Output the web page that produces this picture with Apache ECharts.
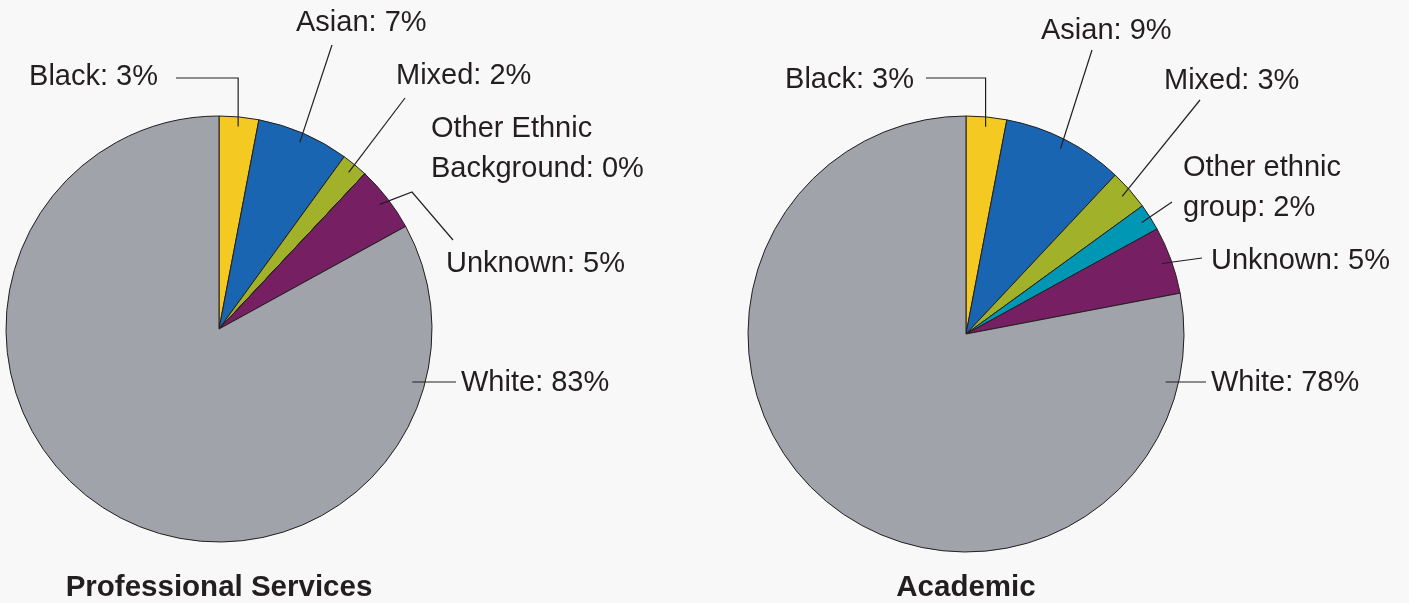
<!DOCTYPE html>
<html>
<head>
<meta charset="utf-8">
<script src="https://cdn.jsdelivr.net/npm/echarts@6/dist/echarts.min.js"></script>
<style>
  html, body { margin: 0; padding: 0; background: #f8f8f8; }
  #chart { width: 1409px; height: 603px; }
</style>
</head>
<body>
<div id="chart"></div>
<script>
// Staff ethnicity by group (percent)
const profNames = ['Black', 'Asian', 'Mixed', 'Other Ethnic\nBackground', 'Unknown', 'White'];
const profValues = [3, 7, 2, 0, 5, 83];
const acadNames = ['Black', 'Asian', 'Mixed', 'Other ethnic\ngroup', 'Unknown', 'White'];
const acadValues = [3, 9, 3, 2, 5, 78];
const pieTitles = ['Professional Services', 'Academic'];
const sliceColors = ['#f4c922', '#1a65b1', '#a1b22a', '#0097b5', '#761f62', '#a0a3aa'];

const INK = '#231f20';
const FONT = '"Liberation Sans", Arial, Helvetica, sans-serif';

// Pie geometry
const profPie = { cx: 219, cy: 329, r: 213 };
const acadPie = { cx: 966, cy: 334, r: 218 };

// Label placement, offsets relative to each pie centre.
// via: leader-line points after the start (null x = keep start x).
// from: 'mid' starts inside the slice at its mid angle, 'flat' starts level with the label.
const profSpots = [
  { lx: -61, ly: -252, align: 'right', from: 'mid', via: [[null, -251], [-43, -251]] },
  { lx: 77,  ly: -306, align: 'left',  from: 'mid', via: [[113, -284]] },
  { lx: 177, ly: -253, align: 'left',  from: 'mid', via: [[186, -231]] },
  { lx: 212, ly: -180, align: 'left',  from: null },
  { lx: 227, ly: -65,  align: 'left',  from: 'mid', via: [[193, -137], [234, -89]] },
  { lx: 242, ly: 54,   align: 'left',  from: 'flat', via: [[237, 53]] }
];
const acadSpots = [
  { lx: -52, ly: -254, align: 'right', from: 'mid', via: [[null, -256], [-40, -256]] },
  { lx: 75,  ly: -303, align: 'left',  from: 'mid', via: [[126, -284]] },
  { lx: 198, ly: -253, align: 'left',  from: 'mid', via: [[234, -234]] },
  { lx: 217, ly: -146, align: 'left',  from: 'mid', via: [[206, -132]] },
  { lx: 245, ly: -73,  align: 'left',  from: 'mid', via: [[236, -76]] },
  { lx: 245, ly: 49,   align: 'left',  from: 'flat', via: [[240, 48]] }
];

function makeLayout(pie, values, spots) {
  const total = values.reduce((a, b) => a + b, 0);
  return function (p) {
    const s = spots[p.dataIndex];
    const out = { x: pie.cx + s.lx, y: pie.cy + s.ly, align: s.align, verticalAlign: 'middle' };
    if (!s.from) return out;
    let start;
    if (s.from === 'mid') {
      let before = 0;
      for (let i = 0; i < p.dataIndex; i++) before += values[i];
      const a = (before + values[p.dataIndex] / 2) / total * Math.PI * 2;
      const k = pie.r * 0.955;
      start = [pie.cx + k * Math.sin(a), pie.cy - k * Math.cos(a)];
    } else {
      const dy = s.via[0][1];
      start = [pie.cx + Math.sqrt(pie.r * pie.r - dy * dy) - 13, pie.cy + dy];
    }
    const pts = [start];
    s.via.forEach(v => pts.push([v[0] === null ? start[0] : pie.cx + v[0], pie.cy + v[1]]));
    out.labelLinePoints = pts;
    return out;
  };
}

const common = {
  type: 'pie',
  radius: 0,
  startAngle: 90,
  clockwise: true,
  avoidLabelOverlap: false,
  silent: true,
  emphasis: { disabled: true }
};

// Coloured slices
function sliceSeries(pie, names, values) {
  return Object.assign({}, common, {
    center: [pie.cx, pie.cy],
    radius: pie.r,
    z: 2,
    itemStyle: { borderColor: INK, borderWidth: 1 },
    label: { show: false },
    labelLine: { show: false },
    data: names.map((n, i) => ({ name: n, value: values[i], itemStyle: { color: sliceColors[i] } }))
  });
}

// Labels and leader lines, drawn above the slices
function labelSeries(pie, names, values, spots) {
  return Object.assign({}, common, {
    center: [pie.cx, pie.cy],
    radius: pie.r,
    z: 3,
    itemStyle: { color: 'rgba(0,0,0,0)', borderWidth: 0 },
    label: {
      show: true,
      position: 'outside',
      formatter: '{b}: {c}%',
      color: INK,
      fontSize: 29,
      lineHeight: 40,
      fontFamily: FONT
    },
    labelLine: { show: true, lineStyle: { color: INK, width: 1.2 } },
    labelLayout: makeLayout(pie, values, spots),
    data: names.map((n, i) => {
      const d = { name: n, value: values[i] };
      if (!spots[i].from) d.labelLine = { show: false };
      return d;
    })
  });
}

const chart = echarts.init(document.getElementById('chart'), null, { renderer: 'canvas' });
chart.setOption({
  backgroundColor: '#f8f8f8',
  animation: false,
  graphic: [
    { type: 'text', x: profPie.cx, y: 588, style: { text: pieTitles[0], align: 'center', verticalAlign: 'middle', fill: INK, font: 'bold 29.5px ' + FONT } },
    { type: 'text', x: acadPie.cx, y: 588, style: { text: pieTitles[1], align: 'center', verticalAlign: 'middle', fill: INK, font: 'bold 29.5px ' + FONT } }
  ],
  series: [
    sliceSeries(profPie, profNames, profValues),
    sliceSeries(acadPie, acadNames, acadValues),
    labelSeries(profPie, profNames, profValues, profSpots),
    labelSeries(acadPie, acadNames, acadValues, acadSpots)
  ]
});
</script>
</body>
</html>
